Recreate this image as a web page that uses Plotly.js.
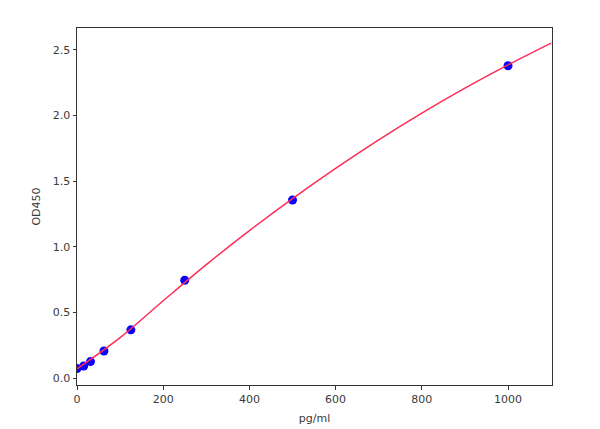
<!DOCTYPE html>
<html>
<head>
<meta charset="utf-8">
<script src="https://cdn.plot.ly/plotly-3.0.1.min.js"></script>
<style>html,body{margin:0;padding:0;background:#fff;}#chart{width:600px;height:429px;}</style>
</head>
<body>
<div id="chart"></div>
<script>
// Standard points
const concentration = [0, 15.6, 31.25, 62.5, 125, 250, 500, 1000];
const od450 = [0.074, 0.094, 0.127, 0.208, 0.369, 0.746, 1.357, 2.379];
// Fitted curve
const curveX = [0, 100, 200, 300, 400, 500, 600, 700, 800, 900, 1000, 1100];
const curveY = [0.072, 0.31, 0.59, 0.865, 1.124, 1.368, 1.598, 1.815, 2.018, 2.208, 2.385, 2.551];
const xTicks = [0, 200, 400, 600, 800, 1000];
const yTicks = [0.0, 0.5, 1.0, 1.5, 2.0, 2.5];
const yTickText = ['0.0', '0.5', '1.0', '1.5', '2.0', '2.5'];

const font = {family: 'DejaVu Sans, sans-serif', size: 11, color: '#3a3a3a'};

const traces = [
  {x: concentration, y: od450, type: 'scatter', mode: 'markers',
   marker: {color: '#0a00ff', size: 9}, hoverinfo: 'x+y'},
  {x: curveX, y: curveY, type: 'scatter', mode: 'lines',
   line: {color: '#ff2d55', width: 1.5, shape: 'spline', smoothing: 1}, hoverinfo: 'x+y'}
];

const axisCommon = {
  showgrid: false, zeroline: false, showline: true, linecolor: '#333', linewidth: 1,
  mirror: true, ticks: 'outside', ticklen: 3.5, tickwidth: 1, tickcolor: '#333',
  tickfont: font
};

const layout = {
  width: 600, height: 429,
  margin: {l: 77.3, r: 47.7, t: 28.3, b: 44.3},
  paper_bgcolor: '#fff', plot_bgcolor: '#fff',
  showlegend: false,
  font: font,
  xaxis: Object.assign({}, axisCommon, {
    range: [0, 1102], tickvals: xTicks, ticktext: xTicks.map(String),
    title: {text: 'pg/ml', font: font, standoff: 9}
  }),
  yaxis: Object.assign({}, axisCommon, {
    range: [-0.051, 2.666], tickvals: yTicks, ticktext: yTickText,
    title: {text: 'OD450', font: font, standoff: 9}
  })
};

Plotly.newPlot('chart', traces, layout, {displayModeBar: false, staticPlot: true});
</script>
</body>
</html>
